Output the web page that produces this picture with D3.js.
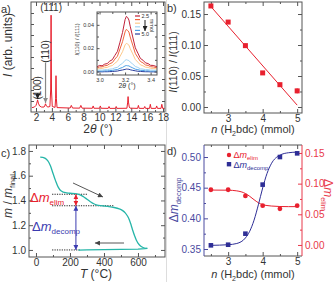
<!DOCTYPE html>
<html><head><meta charset="utf-8">
<script src="https://cdn.jsdelivr.net/npm/d3@7"></script>
<style>body{margin:0;background:#fff}svg{display:block}</style>
</head><body><svg id="c" width="335" height="282"></svg>
<script>
// ---------- DATA ----------
// a) XRD pattern
const xrdTheta = [1.5,1.8,2.0,2.1,2.2,2.3,2.45,2.7,3.0,3.1,3.2,3.3,3.5,3.75,3.85,3.9,3.95,4.05,4.4,4.47,4.52,4.57,4.65,
  6.3,6.45,6.6,7.5,7.65,7.8,9.1,9.2,9.3,10.0,10.1,10.2,11.1,11.2,11.3,12.0,12.1,12.2,
  13.45,13.55,13.6,13.65,13.75,13.85,14.8,14.9,15.0,15.6,15.7,15.8,16.3,16.4,16.5,17.1,17.2,17.3,17.75,17.85,17.95,18.2];
const xrdI = [4,4.5,6,8,11,8,5.5,4.5,4.5,5.5,7.5,5.5,4.5,5,20,88,20,5,4.2,12,33,12,4,
  3.6,6,3.6,3.5,6,3.5,3.4,5.5,3.4,3.4,5.5,3.4,3.3,5,3.3,3.3,5,3.3,
  3.4,9,14,9,4.5,3.5,3.3,6,3.3,3.3,5,3.3,3.3,7,3.3,3.3,5.5,3.3,3.3,7,3.3,3.3];
const xrdTicks = [2,4,6,8,10,12,14,16,18];
// a) inset: I(110)/I(111) vs 2theta for n(H2bdc)
const insetX = [2.98,3.00,3.02,3.04,3.06,3.08,3.10,3.12,3.14,3.16,3.18,3.20,3.21,3.22,3.23,3.24,3.26,3.28,3.30,3.32,3.34,3.36,3.38,3.40,3.42,3.45];
const inset25 = [0.0040,0.0052,0.0049,0.0063,0.0068,0.0089,0.0101,0.0138,0.0172,0.0251,0.0335,0.0445,0.0472,0.0463,0.0441,0.0388,0.0296,0.0203,0.0158,0.0112,0.0097,0.0074,0.0068,0.0053,0.0052,0.0041];
const inset30 = [0.0031,0.0039,0.0040,0.0049,0.0052,0.0067,0.0076,0.0106,0.0131,0.0193,0.0256,0.0340,0.0361,0.0352,0.0338,0.0296,0.0226,0.0155,0.0120,0.0086,0.0074,0.0056,0.0052,0.0041,0.0039,0.0032];
const inset35 = [0.0020,0.0026,0.0026,0.0033,0.0035,0.0046,0.0051,0.0071,0.0088,0.0129,0.0170,0.0228,0.0241,0.0235,0.0226,0.0197,0.0151,0.0103,0.0080,0.0057,0.0049,0.0037,0.0035,0.0027,0.0026,0.0021];
const inset40 = [0.0009,0.0013,0.0011,0.0016,0.0015,0.0020,0.0022,0.0031,0.0036,0.0056,0.0070,0.0096,0.0101,0.0097,0.0094,0.0081,0.0064,0.0043,0.0035,0.0023,0.0021,0.0016,0.0016,0.0012,0.0012,0.0009];
const inset45 = [0.0002,0.0004,0.0003,0.0006,0.0005,0.0008,0.0009,0.0014,0.0017,0.0027,0.0035,0.0048,0.0051,0.0049,0.0048,0.0041,0.0031,0.0020,0.0016,0.0010,0.0009,0.0005,0.0006,0.0003,0.0004,0.0002];
const inset50 = [-0.0004,-0.0002,-0.0003,-0.0002,-0.0002,-0.0001,0.0000,0.0002,0.0004,0.0009,0.0013,0.0018,0.0021,0.0020,0.0019,0.0015,0.0010,0.0006,0.0002,0.0001,-0.0001,-0.0002,-0.0002,-0.0003,-0.0003,-0.0004];
const insetColors = ["#c0223a","#f2643c","#fdc98a","#9fd3f2","#4b9fe6","#2b3d9c"];
const insetXTicks = [3.0,3.2,3.4];
const insetYTicks = [0.00,0.02,0.04];
// b) intensity ratio vs n(H2bdc)
const nAmount = [2.5,3.0,3.5,4.0,4.5,5.0];
const ratio = [0.163,0.137,0.099,0.055,0.036,0.026];
const ratioErr = [0.003,0.003,0.003,0.002,0.003,0.004];
const ratioFitX = [2.5,5.0];
const ratioFitY = [0.162,0.003];
const bYTicks = [0.00,0.05,0.10,0.15];
const nTicks = [3,4,5];
// c) TGA
const tgaHeatT = [25,40,55,70,85,100,115,130,145,160,180,200,230,260,280,300,320,340,360,380,400,430,460,490,510,525,540,550,560,570,580,590,600,615,630,645,655];
const tgaHeatM = [1.750,1.748,1.740,1.720,1.680,1.620,1.560,1.510,1.480,1.468,1.462,1.458,1.455,1.445,1.430,1.410,1.390,1.373,1.363,1.358,1.355,1.350,1.343,1.332,1.318,1.300,1.270,1.240,1.200,1.155,1.115,1.080,1.055,1.032,1.020,1.013,1.012];
const tgaCoolT = [655,640,600,500,400,300,250];
const tgaCoolM = [1.012,1.010,1.007,1.004,1.002,1.000,0.999];
const tgaLevels = [1.45,1.357,1.0];
const tgaLevelStart = [95,95,95];
const tgaLevelEnd = [305,455,260];
const cXTicks = [0,200,400,600];
const cYTicks = [1.0,1.2,1.4,1.6,1.8];
// d) mass losses vs n(H2bdc)
const dmDecomp = [0.356,0.357,0.375,0.455,0.500,0.506];
const dmElim = [0.090,0.090,0.080,0.064,0.059,0.064];
const fitX = [2.5,3.0,3.25,3.5,3.625,3.75,3.875,4.0,4.125,4.25,4.5,4.75,5.0];
const fitDecomp = [0.356,0.357,0.359,0.368,0.379,0.397,0.422,0.4495,0.473,0.489,0.503,0.507,0.508];
const fitElim = [0.0895,0.0893,0.0882,0.0839,0.0793,0.0738,0.0689,0.0657,0.0643,0.0635,0.0627,0.0625,0.0625];
const dLeftTicks = [0.35,0.40,0.45,0.50];
const dRightTicks = [0.00,0.05,0.10,0.15];

// ---------- DRAW ----------
const FONT = '"Liberation Sans", Arial, Helvetica, sans-serif';
const INK = '#333';
const FRAMEC = '#555';
const RED = '#e8202e';
const BLUE = '#2e2e96';
const BLUEAX = '#4a4aa0';
const REDAX = '#e8384a';
const TEAL = '#26b5a8';
const svg = d3.select('#c');
svg.append('rect').attr('width',335).attr('height',282).attr('fill','#fff');
svg.append('line').attr('x1',166.5).attr('x2',166.5).attr('y1',0).attr('y2',282).attr('stroke','#ddd').attr('stroke-width',1);

const defs = svg.append('defs');
function mk(id, color, w, h){
  defs.append('marker').attr('id',id).attr('viewBox','0 0 10 10').attr('refX',10).attr('refY',5)
    .attr('markerUnits','userSpaceOnUse').attr('markerWidth',w).attr('markerHeight',h)
    .attr('orient','auto-start-reverse')
    .append('path').attr('d','M0,0 L10,5 L0,10 z').attr('fill',color);
}
mk('ak','#222',5,5); mk('ag','#888',5,5); mk('ar',RED,5,5); mk('ab','#3b3bb0',5,5); mk('ad','#444',6,5);

function panel(x,y,w,h){
  return svg.append('g').attr('transform',`translate(${x},${y})`);
}
function frame(g,w,h,color){
  g.append('rect').attr('x',0).attr('y',0).attr('width',w).attr('height',h)
    .attr('fill','none').attr('stroke',color||FRAMEC).attr('stroke-width',1);
}
function addAxis(g, scale, type, tr, major, minor, fmt, color, fs, size, pad){
  const gen = type==='bottom'?d3.axisBottom:type==='top'?d3.axisTop:type==='left'?d3.axisLeft:d3.axisRight;
  const s = g.append('g').attr('transform',tr);
  if (minor) s.append('g').call(gen(scale).tickValues(minor).tickSize(-2).tickFormat(''));
  s.append('g').call(gen(scale).tickValues(major).tickSize(-(size||4)).tickPadding(pad==null?3:pad).tickFormat(fmt||''));
  s.selectAll('.domain').remove();
  s.selectAll('line').attr('stroke',color||FRAMEC);
  s.selectAll('text').attr('fill',color||INK).attr('font-family',FONT).attr('font-size',fs||10);
  return s;
}
function txt(parent,x,y,parts,opts){
  opts = opts||{};
  const t = parent.append('text').attr('x',x).attr('y',y).attr('font-family',FONT)
    .attr('font-size',opts.fs||11).attr('fill',opts.fill||INK).attr('text-anchor',opts.anchor||'start');
  if (opts.rot) t.attr('transform',`rotate(${opts.rot},${x},${y})`);
  parts.forEach(p=>{
    const s = t.append('tspan').text(p.t);
    if (p.i) s.attr('font-style','italic');
    if (p.fs) s.attr('font-size',p.fs);
    if (p.dy) s.attr('dy',p.dy);
  });
  return t;
}

// ===== Panel a =====
{
  const W=134,H=110;
  const g = panel(31,2,W,H);
  const x = d3.scaleLinear().domain([1.37,18.25]).range([0,W]);
  const y = d3.scaleLinear().domain([0,100]).range([H,0]);
  const minorX = d3.range(3,18,2);
  const yt = d3.range(10,100,10);
  addAxis(g,x,'bottom',`translate(0,${H})`,xrdTicks,minorX,d3.format('d'),null,10,4,2);
  addAxis(g,x,'top','translate(0,0)',xrdTicks,minorX,null);
  addAxis(g,y,'left','translate(0,0)',yt,null,null,FRAMEC,10,3);
  addAxis(g,y,'right',`translate(${W},0)`,yt,null,null,FRAMEC,10,3);
  const pts = xrdTheta.map((t,i)=>[t,xrdI[i]]);
  g.append('path').datum(pts).attr('fill','none').attr('stroke',RED).attr('stroke-width',1)
    .attr('d',d3.line().x(d=>x(d[0])).y(d=>y(d[1])));
  frame(g,W,H);
  // peak labels
  txt(g,x(2.2)+3.5,y(22),[{t:'(100)'}],{fs:10,anchor:'middle',rot:-90});
  g.append('line').attr('x1',x(2.2)).attr('x2',x(2.2)).attr('y1',y(17)).attr('y2',y(11.8))
    .attr('stroke','#222').attr('stroke-width',1).attr('marker-end','url(#ak)');
  txt(g,x(3.2)+3.5,y(55),[{t:'(110)'}],{fs:10,anchor:'middle',rot:-90});
  g.append('line').attr('x1',x(3.2)).attr('x2',x(3.2)).attr('y1',y(45)).attr('y2',y(8.3))
    .attr('stroke','#888').attr('stroke-width',1.2).attr('marker-end','url(#ag)');
  txt(g,x(3.9),y(88)-4,[{t:'(111)'}],{fs:10,anchor:'middle'});

  // inset
  const IW=60, IH=63;
  const ig = svg.append('g').attr('transform','translate(97,12)');
  ig.append('rect').attr('width',IW).attr('height',IH).attr('fill','#fff');
  const ix = d3.scaleLinear().domain([2.98,3.45]).range([0,IW]);
  const iy = d3.scaleLinear().domain([-0.003,0.051]).range([IH,0]);
  const series = [inset25,inset30,inset35,inset40,inset45,inset50];
  series.slice().reverse().forEach((s,k)=>{
    const idx = series.length-1-k;
    ig.append('path').datum(insetX.map((v,i)=>[v,s[i]])).attr('fill','none')
      .attr('stroke',insetColors[idx]).attr('stroke-width',1)
      .attr('d',d3.line().x(d=>ix(d[0])).y(d=>iy(d[1])));
  });
  const ax1 = addAxis(ig,ix,'bottom',`translate(0,${IH})`,insetXTicks,[3.1,3.3],d3.format('.1f'),FRAMEC,5.5,2.5);
  ax1.selectAll('text').attr('fill',INK);
  addAxis(ig,ix,'top','translate(0,0)',insetXTicks,[3.1,3.3],null,FRAMEC,5.5,2.5);
  const ay1 = addAxis(ig,iy,'left','translate(0,0)',insetYTicks,[0.01,0.03,0.05],d3.format('.2f'),FRAMEC,5.5,2.5);
  ay1.selectAll('text').attr('fill',INK);
  addAxis(ig,iy,'right',`translate(${IW},0)`,insetYTicks,[0.01,0.03,0.05],null,FRAMEC,5.5,2.5);
  frame(ig,IW,IH);
  // legend
  insetColors.forEach((c,i)=>{
    const yy = 4+i*3.6;
    ig.append('line').attr('x1',38).attr('x2',43).attr('y1',yy).attr('y2',yy).attr('stroke',c).attr('stroke-width',1.2);
  });
  txt(ig,44.5,6,[{t:'2.5'}],{fs:5.5});
  txt(ig,44.5,24,[{t:'5.0'}],{fs:5.5});
  ig.append('line').attr('x1',48).attr('x2',48).attr('y1',8).attr('y2',19).attr('stroke','#222').attr('stroke-width',1).attr('marker-end','url(#ak)');
  txt(ig,53,13.5,[{t:'mmol'}],{fs:5.5,anchor:'middle',rot:90});
  txt(ig,IW/2,IH+13,[{t:'2',},{t:'θ',i:true},{t:' (°)'}],{fs:7,anchor:'middle'});
  txt(ig,-18,IH/2-4,[{t:'I',i:true},{t:'(110) / '},{t:'I',i:true},{t:'(111)'}],{fs:5.5,anchor:'middle',rot:-90});

  txt(svg,98,133,[{t:'2'},{t:'θ',i:true},{t:' (°)'}],{fs:12,anchor:'middle'});
  txt(svg,12,45,[{t:'I',i:true},{t:' (arb. units)'}],{fs:12,anchor:'middle',rot:-90});
  txt(svg,1,13,[{t:'a)'}],{fs:11});
}

// ===== Panel b =====
{
  const W=98,H=111;
  const g = panel(204,2,W,H);
  const x = d3.scaleLinear().domain([2.3,5.14]).range([0,W]);
  const y = d3.scaleLinear().domain([-0.0097,0.1694]).range([H,0]);
  const minX=[2.5,3.5,4.5], minY=[0.025,0.075,0.125];
  addAxis(g,x,'bottom',`translate(0,${H})`,nTicks,minX,d3.format('d'),null,10,4,2);
  addAxis(g,x,'top','translate(0,0)',nTicks,minX,null);
  addAxis(g,y,'left','translate(0,0)',bYTicks,minY,d3.format('.2f'));
  addAxis(g,y,'right',`translate(${W},0)`,bYTicks,minY,null);
  g.append('path').datum(ratioFitX.map((v,i)=>[v,ratioFitY[i]])).attr('fill','none').attr('stroke',RED).attr('stroke-width',1)
    .attr('d',d3.line().x(d=>x(d[0])).y(d=>y(d[1])));
  nAmount.forEach((n,i)=>{
    g.append('line').attr('x1',x(n)).attr('x2',x(n)).attr('y1',y(ratio[i]-ratioErr[i])).attr('y2',y(ratio[i]+ratioErr[i]))
      .attr('stroke',RED).attr('stroke-width',1);
    g.append('rect').attr('x',x(n)-2.5).attr('y',y(ratio[i])-2.5).attr('width',5).attr('height',5).attr('fill',RED);
  });
  frame(g,W,H);
  txt(svg,253,133,[{t:'n',i:true},{t:' (H'},{t:'2',fs:7,dy:3},{t:'bdc) (mmol)',dy:-3}],{fs:11,anchor:'middle'});
  txt(svg,177,62,[{t:'I',i:true},{t:'(110) / '},{t:'I',i:true},{t:'(111)'}],{fs:10.5,anchor:'middle',rot:-90});
  txt(svg,167,12,[{t:'b)'}],{fs:11});
}

// ===== Panel c =====
{
  const W=136,H=112;
  const g = panel(29,145,W,H);
  const x = d3.scaleLinear().domain([-41,759]).range([0,W]);
  const y = d3.scaleLinear().domain([0.943,1.848]).range([H,0]);
  const minX=[100,300,500,700], minY=[1.1,1.3,1.5,1.7];
  addAxis(g,x,'bottom',`translate(0,${H})`,cXTicks,minX,d3.format('d'),null,10,4,2);
  addAxis(g,x,'top','translate(0,0)',cXTicks,minX,null);
  addAxis(g,y,'left','translate(0,0)',cYTicks,minY,d3.format('.1f'));
  addAxis(g,y,'right',`translate(${W},0)`,cYTicks,minY,null);
  // dotted levels
  tgaLevels.forEach((m,i)=>{
    g.append('line').attr('x1',x(tgaLevelStart[i])).attr('x2',x(tgaLevelEnd[i])).attr('y1',y(m)).attr('y2',y(m))
      .attr('stroke','#222').attr('stroke-width',1).attr('stroke-dasharray','1.2,1.2');
  });
  g.append('path').datum(tgaHeatT.map((t,i)=>[t,tgaHeatM[i]])).attr('fill','none').attr('stroke',TEAL).attr('stroke-width',1.3)
    .attr('d',d3.line().x(d=>x(d[0])).y(d=>y(d[1])).curve(d3.curveCatmullRom));
  g.append('path').datum(tgaCoolT.map((t,i)=>[t,tgaCoolM[i]])).attr('fill','none').attr('stroke',TEAL).attr('stroke-width',1.3)
    .attr('d',d3.line().x(d=>x(d[0])).y(d=>y(d[1])));
  // double arrows
  g.append('line').attr('x1',x(235)).attr('x2',x(235)).attr('y1',y(tgaLevels[0])).attr('y2',y(tgaLevels[1]))
    .attr('stroke',RED).attr('stroke-width',1).attr('marker-start','url(#ar)').attr('marker-end','url(#ar)');
  g.append('line').attr('x1',x(235)).attr('x2',x(235)).attr('y1',y(tgaLevels[1])).attr('y2',y(tgaLevels[2]))
    .attr('stroke','#3b3bb0').attr('stroke-width',1).attr('marker-start','url(#ab)').attr('marker-end','url(#ab)');
  // grey direction arrows
  g.append('line').attr('x1',x(218)).attr('y1',y(1.541)).attr('x2',x(394)).attr('y2',y(1.428))
    .attr('stroke','#444').attr('stroke-width',0.9).attr('marker-end','url(#ad)');
  g.append('line').attr('x1',x(518)).attr('y1',y(1.056)).attr('x2',x(347)).attr('y2',y(1.056))
    .attr('stroke','#444').attr('stroke-width',0.9).attr('marker-end','url(#ad)');
  frame(g,W,H);
  txt(svg,30,202,[{t:'Δ'},{t:'m',i:true},{t:'elim',fs:8,dy:3}],{fs:13,fill:RED});
  txt(svg,32,231,[{t:'Δ'},{t:'m',i:true},{t:'decomp',fs:8,dy:3}],{fs:13,fill:'#3b3bb0'});
  txt(svg,96,278,[{t:'T',i:true},{t:' (°C)'}],{fs:12,anchor:'middle'});
  txt(svg,12,196,[{t:'m',i:true},{t:' / '},{t:'m',i:true},{t:'final',fs:7.5,dy:3}],{fs:12,anchor:'middle',rot:-90});
  txt(svg,1,157,[{t:'c)'}],{fs:11});
}

// ===== Panel d =====
{
  const W=98,H=111;
  const g = panel(204,145,W,H);
  const x = d3.scaleLinear().domain([2.3,5.14]).range([0,W]);
  const yL = d3.scaleLinear().domain([0.3386,0.5196]).range([H,0]);
  const yR = d3.scaleLinear().domain([-0.018,0.163]).range([H,0]);
  const minX=[2.5,3.5,4.5];
  addAxis(g,x,'bottom',`translate(0,${H})`,nTicks,minX,d3.format('d'),null,10,4,2);
  addAxis(g,x,'top','translate(0,0)',nTicks,minX,null);
  addAxis(g,yL,'left','translate(0,0)',dLeftTicks,[0.375,0.425,0.475],d3.format('.2f'),BLUEAX);
  addAxis(g,yR,'right',`translate(${W},0)`,dRightTicks,[0.025,0.075,0.125],d3.format('.2f'),REDAX);
  g.append('line').attr('x1',0).attr('x2',W).attr('y1',0).attr('y2',0).attr('stroke',FRAMEC);
  g.append('line').attr('x1',0).attr('x2',W).attr('y1',H).attr('y2',H).attr('stroke',FRAMEC);
  g.append('line').attr('x1',0).attr('x2',0).attr('y1',0).attr('y2',H).attr('stroke',BLUEAX);
  g.append('line').attr('x1',W).attr('x2',W).attr('y1',0).attr('y2',H).attr('stroke',REDAX);
  const cv = d3.curveMonotoneX;
  g.append('path').datum(fitX.map((v,i)=>[v,fitElim[i]])).attr('fill','none').attr('stroke',RED).attr('stroke-width',1)
    .attr('d',d3.line().x(d=>x(d[0])).y(d=>yR(d[1])).curve(cv));
  g.append('path').datum(fitX.map((v,i)=>[v,fitDecomp[i]])).attr('fill','none').attr('stroke',BLUE).attr('stroke-width',1)
    .attr('d',d3.line().x(d=>x(d[0])).y(d=>yL(d[1])).curve(cv));
  nAmount.forEach((n,i)=>{
    g.append('circle').attr('cx',x(n)).attr('cy',yR(dmElim[i])).attr('r',2.4).attr('fill',RED);
    g.append('rect').attr('x',x(n)-2.3).attr('y',yL(dmDecomp[i])-2.3).attr('width',4.6).attr('height',4.6).attr('fill',BLUE);
  });
  // legend
  g.append('circle').attr('cx',25).attr('cy',10).attr('r',2.2).attr('fill',RED);
  g.append('rect').attr('x',22.8).attr('y',17).attr('width',4.4).attr('height',4.4).attr('fill',BLUE);
  txt(g,29.5,13,[{t:'Δ'},{t:'m',i:true},{t:'elim',fs:6,dy:2}],{fs:9,fill:RED});
  txt(g,29.5,22.5,[{t:'Δ'},{t:'m',i:true},{t:'decomp',fs:6,dy:2}],{fs:9,fill:BLUE});
  txt(svg,253,278,[{t:'n',i:true},{t:' (H'},{t:'2',fs:7,dy:3},{t:'bdc) (mmol)',dy:-3}],{fs:11,anchor:'middle'});
  txt(svg,178,200,[{t:'Δ'},{t:'m',i:true},{t:'decomp',fs:7.5,dy:3}],{fs:12,anchor:'middle',rot:-90,fill:BLUEAX});
  txt(svg,324,195,[{t:'Δ'},{t:'m',i:true},{t:'elim',fs:7.5,dy:3}],{fs:12,anchor:'middle',rot:90,fill:REDAX});
  txt(svg,167,155,[{t:'d)'}],{fs:11});
}
</script></body></html>
